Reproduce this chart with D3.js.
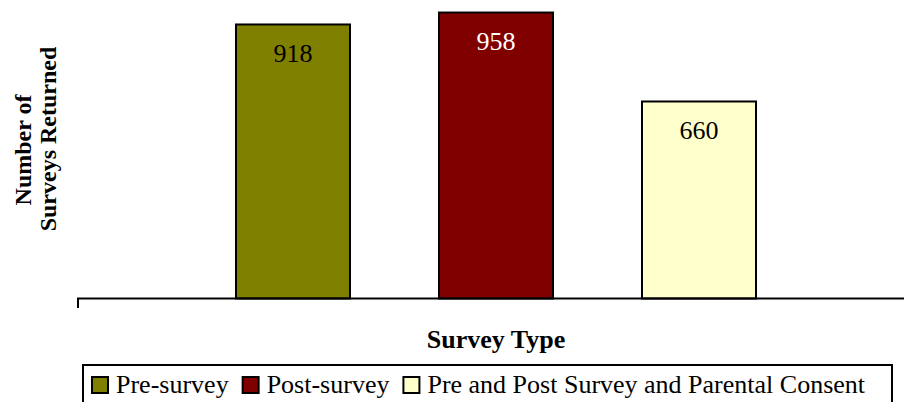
<!DOCTYPE html>
<meta charset="utf-8">
<style>

body {
  margin: 0;
  background: #fff;
}

text {
  font-family: "Liberation Serif", "Times New Roman", serif;
}

</style>
<svg></svg>
<script src="https://d3js.org/d3.v7.min.js"></script>
<script>

var categories = ["Pre-survey", "Post-survey", "Pre and Post Survey and Parental Consent"],
    values = [918, 958, 660],
    colors = ["#808000", "#800000", "#ffffcc"],
    labelColors = ["#000", "#fff", "#000"];

var width = 905,
    height = 402;

var svg = d3.select("svg")
    .attr("width", width)
    .attr("height", height);

var baseline = 298.5;

var x = d3.scaleBand()
    .domain(categories)
    .range([147, 845])
    .padding(0.4384);

var y = d3.scaleLinear()
    .domain([0, 1000])
    .range([baseline, 0]);

// bars
svg.selectAll("rect.bar")
    .data(values)
  .enter().append("rect")
    .attr("class", "bar")
    .attr("x", function(d, i) { return x(categories[i]); })
    .attr("y", function(d) { return y(d); })
    .attr("width", x.bandwidth())
    .attr("height", function(d) { return baseline - y(d); })
    .attr("fill", function(d, i) { return colors[i]; })
    .attr("stroke", "#000")
    .attr("stroke-width", 2);

// value labels inside bars
svg.selectAll("text.value")
    .data(values)
  .enter().append("text")
    .attr("class", "value")
    .attr("x", function(d, i) { return x(categories[i]) + x.bandwidth() / 2; })
    .attr("y", function(d) { return y(d) + 37.5; })
    .attr("text-anchor", "middle")
    .attr("font-size", "26px")
    .attr("fill", function(d, i) { return labelColors[i]; })
    .text(function(d) { return d; });

// x axis line with the small left tick
svg.append("path")
    .attr("d", "M78,308V" + baseline + "H904")
    .attr("fill", "none")
    .attr("stroke", "#000")
    .attr("stroke-width", 2);

// axis titles
svg.append("text")
    .attr("x", 496)
    .attr("y", 348)
    .attr("text-anchor", "middle")
    .attr("font-size", "26px")
    .attr("font-weight", "bold")
    .text("Survey Type");

svg.append("text")
    .attr("transform", "translate(31,150) rotate(-90)")
    .attr("text-anchor", "middle")
    .attr("font-size", "24px")
    .attr("font-weight", "bold")
    .text("Number of");

svg.append("text")
    .attr("transform", "translate(56,139) rotate(-90)")
    .attr("text-anchor", "middle")
    .attr("font-size", "24px")
    .attr("font-weight", "bold")
    .text("Surveys Returned");

// legend
var legend = svg.append("g");

legend.append("rect")
    .attr("x", 83)
    .attr("y", 365)
    .attr("width", 809)
    .attr("height", 60)
    .attr("fill", "#fff")
    .attr("stroke", "#000")
    .attr("stroke-width", 2);

var lx = 92;
categories.forEach(function(c, i) {
  legend.append("rect")
      .attr("x", lx)
      .attr("y", 377)
      .attr("width", 16)
      .attr("height", 16)
      .attr("fill", colors[i])
      .attr("stroke", "#000")
      .attr("stroke-width", 2);
  var t = legend.append("text")
      .attr("x", lx + 24)
      .attr("y", 393)
      .attr("font-size", "26px")
      .text(c);
  lx += 24 + t.node().getComputedTextLength() + 14;
});

</script>
